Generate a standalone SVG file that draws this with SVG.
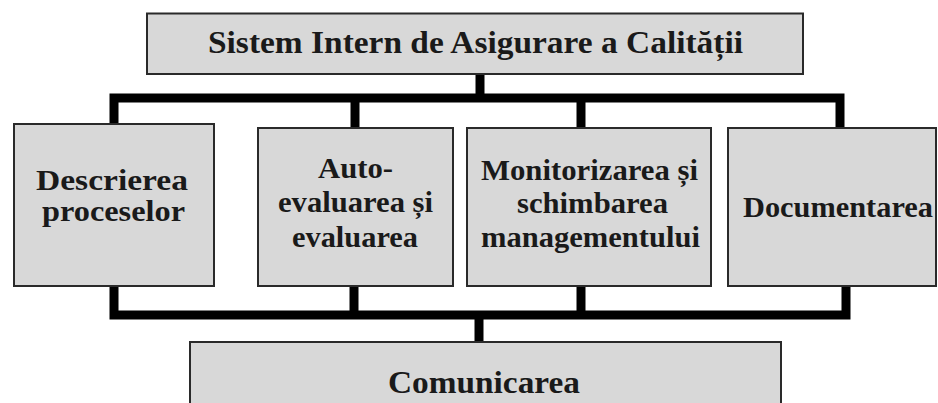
<svg xmlns="http://www.w3.org/2000/svg" width="938" height="403" viewBox="0 0 938 403">
<style>
.box{fill:#d8d8d8;stroke:#2a2a2a;stroke-width:2}
.t{font-family:"Liberation Serif","Times New Roman",serif;font-weight:bold;fill:#1a1a1a;text-anchor:start}
.c{fill:none;stroke:#000;stroke-width:9;stroke-linejoin:miter;stroke-linecap:butt}
</style>
<rect width="938" height="403" fill="#ffffff"/>
<g id="connectors">
<path class="c" d="M480,74 V98"/>
<path class="c" d="M114,124 V98 H840 V128"/>
<path class="c" d="M355,98 V128"/>
<path class="c" d="M581,98 V128"/>
<path class="c" d="M114,286 V315 H846 V286"/>
<path class="c" d="M354,286 V315"/>
<path class="c" d="M581,286 V315"/>
<path class="c" d="M479,315 V342"/>
</g>
<g id="top">
<rect class="box" x="147" y="13.5" width="656" height="60.5"/>
<text class="t" x="208" y="53" font-size="32" textLength="535" lengthAdjust="spacingAndGlyphs">Sistem Intern de Asigurare a Calității</text>
</g>
<g id="descrierea">
<rect class="box" x="14" y="124" width="200" height="162"/>
<text class="t" x="36" y="190" font-size="30" textLength="152" lengthAdjust="spacingAndGlyphs">Descrierea</text>
<text class="t" x="42" y="221" font-size="30" textLength="143" lengthAdjust="spacingAndGlyphs">proceselor</text>
</g>
<g id="autoevaluare">
<rect class="box" x="258" y="128" width="195" height="158"/>
<text class="t" x="318" y="178" font-size="30" textLength="75" lengthAdjust="spacingAndGlyphs">Auto-</text>
<text class="t" x="278" y="212" font-size="30" textLength="155" lengthAdjust="spacingAndGlyphs">evaluarea și</text>
<text class="t" x="292" y="247" font-size="30" textLength="126" lengthAdjust="spacingAndGlyphs">evaluarea</text>
</g>
<g id="monitorizare">
<rect class="box" x="467" y="128" width="244" height="158"/>
<text class="t" x="481" y="180" font-size="30" textLength="217" lengthAdjust="spacingAndGlyphs">Monitorizarea și</text>
<text class="t" x="517" y="213" font-size="30" textLength="151" lengthAdjust="spacingAndGlyphs">schimbarea</text>
<text class="t" x="481" y="247" font-size="30" textLength="219" lengthAdjust="spacingAndGlyphs">managementului</text>
</g>
<g id="documentarea">
<rect class="box" x="728" y="128" width="208" height="158"/>
<text class="t" x="743" y="217" font-size="30" textLength="190" lengthAdjust="spacingAndGlyphs">Documentarea</text>
</g>
<g id="comunicarea">
<rect class="box" x="190" y="342" width="591" height="70"/>
<text class="t" x="388" y="393" font-size="32" textLength="192" lengthAdjust="spacingAndGlyphs">Comunicarea</text>
</g>
</svg>
